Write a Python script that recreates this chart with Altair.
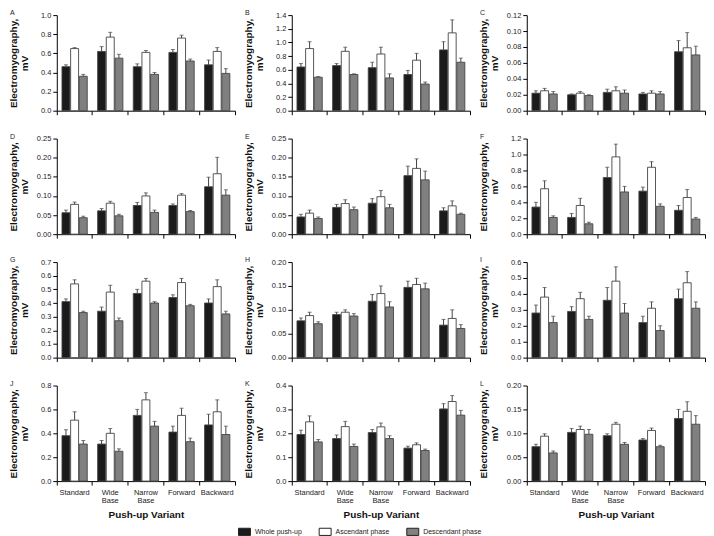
import altair as alt
import pandas as pd

variants = ["Standard", "Wide Base", "Narrow Base", "Forward", "Backward"]
phases = ["Whole push-up", "Ascendant phase", "Descendant phase"]
phase_fills = ["#1b1b1b", "#ffffff", "#808080"]

A_whole = [0.46, 0.62, 0.46, 0.61, 0.48]
A_asc = [0.65, 0.77, 0.61, 0.76, 0.62]
A_desc = [0.36, 0.55, 0.38, 0.52, 0.39]
A_err_whole = [0.02, 0.05, 0.03, 0.03, 0.05]
A_err_asc = [0.01, 0.05, 0.02, 0.03, 0.04]
A_err_desc = [0.02, 0.04, 0.02, 0.02, 0.05]
A_ticks = [0.0, 0.2, 0.4, 0.6, 0.8, 1.0]

B_whole = [0.64, 0.66, 0.63, 0.53, 0.89]
B_asc = [0.91, 0.87, 0.83, 0.74, 1.14]
B_desc = [0.49, 0.53, 0.48, 0.39, 0.71]
B_err_whole = [0.05, 0.03, 0.08, 0.06, 0.12]
B_err_asc = [0.10, 0.06, 0.10, 0.10, 0.19]
B_err_desc = [0.01, 0.01, 0.06, 0.03, 0.06]
B_ticks = [0.0, 0.2, 0.4, 0.6, 0.8, 1.0, 1.2, 1.4]

C_whole = [0.022, 0.020, 0.023, 0.021, 0.074]
C_asc = [0.025, 0.022, 0.025, 0.022, 0.079]
C_desc = [0.021, 0.019, 0.022, 0.021, 0.070]
C_err_whole = [0.003, 0.001, 0.004, 0.002, 0.014]
C_err_asc = [0.003, 0.002, 0.005, 0.003, 0.019]
C_err_desc = [0.003, 0.001, 0.004, 0.003, 0.011]
C_ticks = [0.00, 0.02, 0.04, 0.06, 0.08, 0.10, 0.12]

D_whole = [0.056, 0.061, 0.075, 0.075, 0.124]
D_asc = [0.078, 0.081, 0.100, 0.102, 0.158]
D_desc = [0.043, 0.048, 0.057, 0.059, 0.102]
D_err_whole = [0.007, 0.006, 0.008, 0.004, 0.025]
D_err_asc = [0.006, 0.005, 0.008, 0.004, 0.043]
D_err_desc = [0.004, 0.004, 0.006, 0.003, 0.014]
D_ticks = [0.00, 0.05, 0.10, 0.15, 0.20, 0.25]

E_whole = [0.045, 0.070, 0.081, 0.153, 0.061]
E_asc = [0.055, 0.080, 0.098, 0.172, 0.074]
E_desc = [0.041, 0.064, 0.069, 0.142, 0.052]
E_err_whole = [0.007, 0.008, 0.012, 0.025, 0.008]
E_err_asc = [0.008, 0.010, 0.016, 0.025, 0.013]
E_err_desc = [0.004, 0.007, 0.009, 0.023, 0.003]
E_ticks = [0.00, 0.05, 0.10, 0.15, 0.20, 0.25]

F_whole = [0.34, 0.21, 0.71, 0.54, 0.30]
F_asc = [0.57, 0.36, 0.97, 0.84, 0.46]
F_desc = [0.21, 0.13, 0.53, 0.35, 0.19]
F_err_whole = [0.06, 0.05, 0.13, 0.05, 0.06]
F_err_asc = [0.10, 0.09, 0.16, 0.07, 0.10]
F_err_desc = [0.02, 0.02, 0.07, 0.03, 0.02]
F_ticks = [0.0, 0.2, 0.4, 0.6, 0.8, 1.0, 1.2]

G_whole = [0.41, 0.34, 0.47, 0.44, 0.40]
G_asc = [0.54, 0.48, 0.56, 0.55, 0.52]
G_desc = [0.33, 0.27, 0.40, 0.38, 0.32]
G_err_whole = [0.02, 0.03, 0.03, 0.02, 0.03]
G_err_asc = [0.03, 0.05, 0.02, 0.03, 0.05]
G_err_desc = [0.01, 0.02, 0.01, 0.01, 0.02]
G_ticks = [0.0, 0.1, 0.2, 0.3, 0.4, 0.5, 0.6, 0.7]

H_whole = [0.077, 0.090, 0.118, 0.147, 0.068]
H_asc = [0.088, 0.095, 0.134, 0.153, 0.082]
H_desc = [0.071, 0.087, 0.106, 0.144, 0.061]
H_err_whole = [0.006, 0.005, 0.014, 0.013, 0.012]
H_err_asc = [0.007, 0.005, 0.016, 0.013, 0.018]
H_err_desc = [0.004, 0.005, 0.011, 0.012, 0.008]
H_ticks = [0.00, 0.05, 0.10, 0.15, 0.20]

I_whole = [0.28, 0.29, 0.36, 0.22, 0.37]
I_asc = [0.38, 0.37, 0.48, 0.31, 0.47]
I_desc = [0.22, 0.24, 0.28, 0.17, 0.31]
I_err_whole = [0.05, 0.03, 0.08, 0.04, 0.06]
I_err_asc = [0.06, 0.04, 0.09, 0.04, 0.07]
I_err_desc = [0.04, 0.02, 0.06, 0.03, 0.04]
I_ticks = [0.0, 0.1, 0.2, 0.3, 0.4, 0.5, 0.6]

J_whole = [0.38, 0.31, 0.55, 0.41, 0.47]
J_asc = [0.51, 0.40, 0.68, 0.55, 0.58]
J_desc = [0.31, 0.25, 0.46, 0.33, 0.39]
J_err_whole = [0.05, 0.03, 0.05, 0.05, 0.09]
J_err_asc = [0.07, 0.04, 0.06, 0.06, 0.10]
J_err_desc = [0.03, 0.02, 0.04, 0.03, 0.07]
J_ticks = [0.0, 0.2, 0.4, 0.6, 0.8]

K_whole = [0.195, 0.178, 0.203, 0.138, 0.302]
K_asc = [0.248, 0.228, 0.227, 0.152, 0.333]
K_desc = [0.164, 0.145, 0.178, 0.128, 0.276]
K_err_whole = [0.018, 0.015, 0.013, 0.008, 0.022]
K_err_asc = [0.025, 0.022, 0.016, 0.008, 0.025]
K_err_desc = [0.010, 0.010, 0.012, 0.006, 0.020]
K_ticks = [0.0, 0.1, 0.2, 0.3, 0.4]

L_whole = [0.072, 0.102, 0.095, 0.086, 0.131]
L_asc = [0.094, 0.108, 0.119, 0.106, 0.146]
L_desc = [0.059, 0.098, 0.077, 0.072, 0.119]
L_err_whole = [0.005, 0.008, 0.004, 0.003, 0.019]
L_err_asc = [0.005, 0.007, 0.004, 0.005, 0.020]
L_err_desc = [0.004, 0.010, 0.004, 0.003, 0.018]
L_ticks = [0.00, 0.05, 0.10, 0.15, 0.20]

panels = [
    ("A", A_whole, A_asc, A_desc, A_err_whole, A_err_asc, A_err_desc, A_ticks, ".1f"),
    ("B", B_whole, B_asc, B_desc, B_err_whole, B_err_asc, B_err_desc, B_ticks, ".1f"),
    ("C", C_whole, C_asc, C_desc, C_err_whole, C_err_asc, C_err_desc, C_ticks, ".2f"),
    ("D", D_whole, D_asc, D_desc, D_err_whole, D_err_asc, D_err_desc, D_ticks, ".2f"),
    ("E", E_whole, E_asc, E_desc, E_err_whole, E_err_asc, E_err_desc, E_ticks, ".2f"),
    ("F", F_whole, F_asc, F_desc, F_err_whole, F_err_asc, F_err_desc, F_ticks, ".1f"),
    ("G", G_whole, G_asc, G_desc, G_err_whole, G_err_asc, G_err_desc, G_ticks, ".1f"),
    ("H", H_whole, H_asc, H_desc, H_err_whole, H_err_asc, H_err_desc, H_ticks, ".2f"),
    ("I", I_whole, I_asc, I_desc, I_err_whole, I_err_asc, I_err_desc, I_ticks, ".1f"),
    ("J", J_whole, J_asc, J_desc, J_err_whole, J_err_asc, J_err_desc, J_ticks, ".1f"),
    ("K", K_whole, K_asc, K_desc, K_err_whole, K_err_asc, K_err_desc, K_ticks, ".1f"),
    ("L", L_whole, L_asc, L_desc, L_err_whole, L_err_asc, L_err_desc, L_ticks, ".2f"),
]

W, H = 179, 96

legend = alt.Legend(
    orient="none", legendX=182, legendY=512, direction="horizontal", title=None,
    symbolType="M-1,-0.6H1V0.6H-1Z", symbolSize=144, symbolStrokeColor="#222",
    symbolStrokeWidth=1, labelFontSize=7, labelOffset=4, columnPadding=14,
    labelColor="#222",
)


def make_panel(letter, whole, asc, desc, ew, ea, ed, ticks, fmt, bottom):
    rows = []
    for i, v in enumerate(variants):
        for ph, vals, errs in zip(phases, [whole, asc, desc], [ew, ea, ed]):
            rows.append({"variant": v, "phase": ph, "value": vals[i], "top": vals[i] + errs[i]})
    df = pd.DataFrame(rows)

    if bottom:
        xaxis = alt.Axis(
            title="Push-up Variant", labelAngle=0, labelExpr="split(datum.label, ' ')",
            labelFontSize=7.5, labelLineHeight=8.5, labelPadding=3, tickSize=4,
            bandPosition=1, tickExtra=True, titleFontSize=10, titleFontWeight="bold",
            titlePadding=6, labelColor="#222",
        )
    else:
        xaxis = alt.Axis(title=None, labels=False, tickSize=4, bandPosition=1, tickExtra=True)

    x = alt.X("variant:N", sort=variants, scale=alt.Scale(paddingInner=0, paddingOuter=0), axis=xaxis)
    xo = alt.XOffset("phase:N", sort=phases,
                     scale=alt.Scale(domain=phases, paddingInner=0.08, paddingOuter=0.6))
    yscale = alt.Scale(domain=[0, ticks[-1]], nice=False, zero=True)
    yaxis = alt.Axis(
        values=ticks, format=fmt, title=["Electromyography,", "mV"], titleFontSize=10,
        titleFontWeight="bold", titleLineHeight=11, titleX=-38, labelFontSize=7.5,
        labelPadding=2, tickSize=4, labelColor="#222",
    )
    fill = alt.Fill("phase:N", sort=phases, scale=alt.Scale(domain=phases, range=phase_fills), legend=legend)

    bars = alt.Chart(df).mark_bar(stroke="#444", strokeWidth=0.9).encode(
        x=x, xOffset=xo, y=alt.Y("value:Q", scale=yscale, axis=yaxis), fill=fill
    )
    err = alt.Chart(df).mark_rule(color="#444", strokeWidth=1).encode(
        x=x, xOffset=xo, y=alt.Y("value:Q", scale=yscale, axis=yaxis), y2="top:Q"
    )
    cap = alt.Chart(df).mark_tick(color="#444", thickness=1, size=4).encode(
        x=x, xOffset=xo, y=alt.Y("top:Q", scale=yscale, axis=yaxis)
    )
    lab = alt.Chart(pd.DataFrame({"t": [letter]})).mark_text(
        align="left", baseline="middle", fontSize=7, color="#222"
    ).encode(text="t:N", x=alt.value(-47), y=alt.value(-2))
    return alt.layer(bars, err, cap, lab).properties(width=W, height=H)


charts = [make_panel(*p, bottom=(i >= 9)) for i, p in enumerate(panels)]
chart = alt.concat(
    *charts, columns=3, spacing={"row": 28, "column": 57}, bounds="flush"
).properties(padding=0).configure(
    font="Liberation Sans"
).configure_view(stroke=None).configure_axis(
    grid=False, domainColor="#000", tickColor="#000", domainWidth=1, tickWidth=1, titleColor="#111"
)

chart.save("out.html", embed_options={"renderer": "svg", "actions": False})
